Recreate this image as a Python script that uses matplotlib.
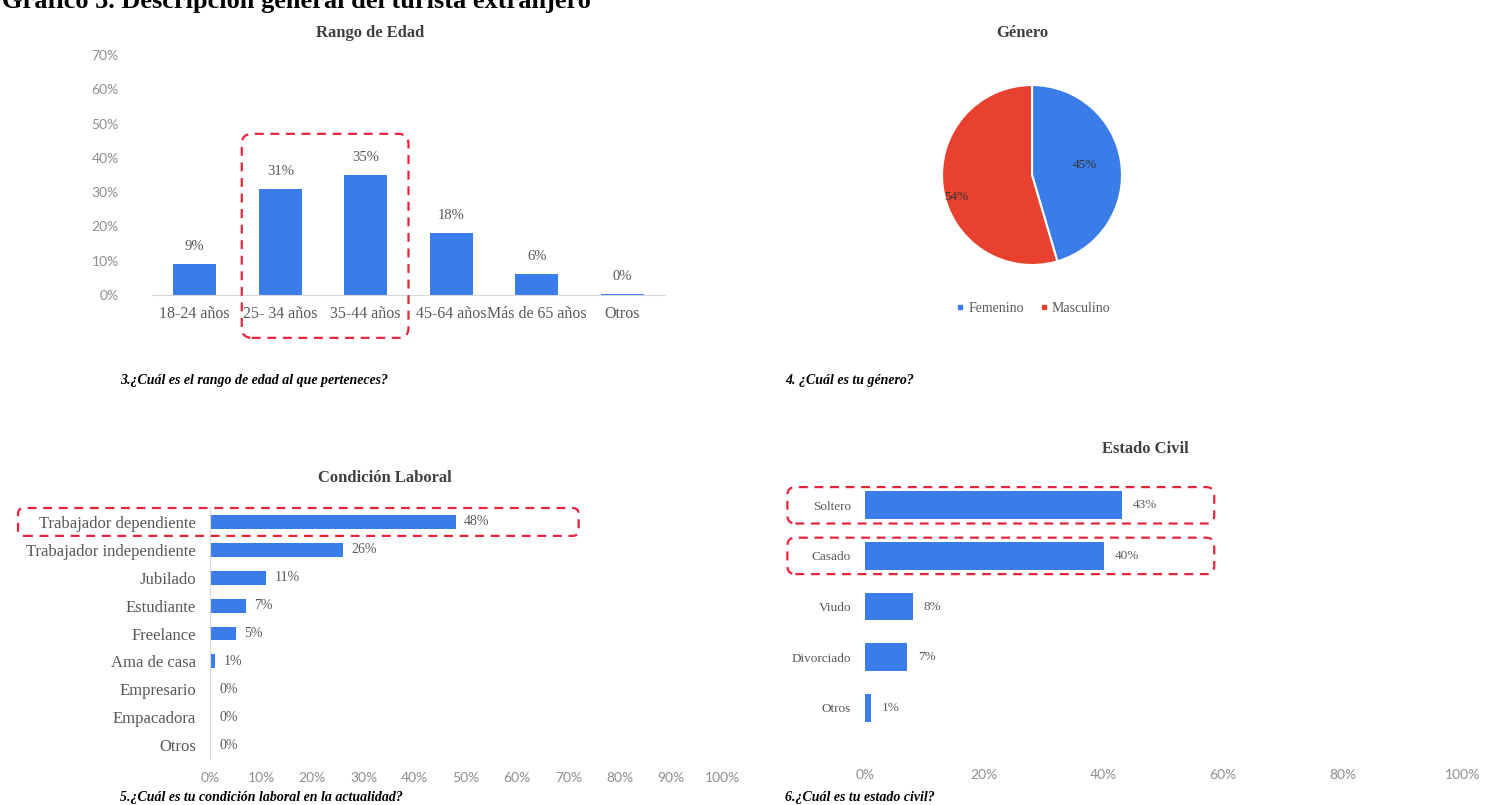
import matplotlib
matplotlib.use("Agg")
import numpy as np
from matplotlib import pyplot as plt
from matplotlib.patches import FancyBboxPatch
from matplotlib.lines import Line2D
from matplotlib.transforms import IdentityTransform

# data
edad_cats = ["18-24 años", "25- 34 años", "35-44 años", "45-64 años", "Más de 65 años", "Otros"]
edad_vals = [9, 31, 35, 18, 6, 0.4]

genero_cats = ["Femenino", "Masculino"]
genero_vals = [45, 54]

laboral_cats = ["Trabajador dependiente", "Trabajador independiente", "Jubilado", "Estudiante",
                "Freelance", "Ama de casa", "Empresario", "Empacadora", "Otros"]
laboral_vals = [48, 26, 11, 7, 5, 1, 0.2, 0.2, 0.2]

civil_cats = ["Soltero", "Casado", "Viudo", "Divorciado", "Otros"]
civil_vals = [43, 40, 8, 7, 1]

BLUE = "#3b7de8"
RED = "#e8412f"
BOX_RED = "#e8243c"
GREY = "#595959"
LIGHT = "#8f8f8f"
SERIF = ["Liberation Serif", "DejaVu Serif"]
SANS = ["Liberation Sans Narrow", "Lato", "DejaVu Sans"]

W, H = 1486, 805
fig = plt.figure(figsize=(W / 100, H / 100), dpi=100)


def rect(l, t, r, b):
    return [l / W, 1 - b / H, (r - l) / W, (b - t) / H]


def ftext(x, y, s, **kw):
    fig.text(x / W, 1 - y / H, s, **kw)


def dashed_box(ax, x0, y0, x1, y1, rad=10):
    # rounded dashed frame, corners given in data coords of ax
    fig.canvas.draw()
    (a, b) = ax.transData.transform((x0, y0))
    (c, d) = ax.transData.transform((x1, y1))
    l, r = min(a, c), max(a, c)
    lo, hi = min(b, d), max(b, d)
    p = FancyBboxPatch((l, lo), r - l, hi - lo, boxstyle=f"round,pad=0,rounding_size={rad}",
                       transform=IdentityTransform(), fill=False, edgecolor=BOX_RED,
                       linewidth=1.6, linestyle=(0, (4, 3)), clip_on=False)
    fig.add_artist(p)


def plain(ax, keep):
    for side in ["top", "right", "left", "bottom"]:
        ax.spines[side].set_visible(side in keep)
        ax.spines[side].set_color("#d9d9d9")
    ax.tick_params(length=0)


# page heading, partly cut at the top edge
ftext(2, 8, "Gráfico 3. Descripción general del turista extranjero", family=SERIF,
      fontsize=19, fontweight="bold", va="baseline", ha="left")

# Rango de Edad
ax1 = fig.add_axes(rect(152, 55, 665, 295))
x1 = list(range(len(edad_cats)))
ax1.bar(x1, edad_vals, width=0.5, color=BLUE)
ax1.set_xlim(-0.5, len(edad_cats) - 0.5)
ax1.set_ylim(0, 70)
ax1.set_yticks(range(0, 71, 10))
ax1.set_yticklabels([f"{t}%" for t in range(0, 71, 10)], family=SANS, fontsize=10, color=LIGHT)
ax1.set_xticks(x1)
ax1.set_xticklabels(edad_cats, family=SERIF, fontsize=11.5, color=GREY)
plain(ax1, ["bottom"])
ax1.tick_params(axis="y", pad=24)
ax1.tick_params(axis="x", pad=8)
for i, v in enumerate(edad_vals):
    ax1.annotate(f"{v:.0f}%", (i, v), xytext=(0, 8), textcoords="offset points",
                 ha="center", va="bottom", family=SERIF, fontsize=10.5, color=GREY)
ftext(370, 33, "Rango de Edad", family=SERIF, fontsize=12, fontweight="bold",
      color="#404040", ha="center", va="center")
ftext(120, 380, "3.¿Cuál es el rango de edad al que perteneces?", family=SERIF,
      fontsize=10, fontweight="bold", style="italic", va="center")

# Género
ax2 = fig.add_axes(rect(942, 85, 1122, 265))
wedges, _ = ax2.pie(genero_vals, colors=[BLUE, RED], startangle=90, counterclock=False,
                    wedgeprops=dict(edgecolor="white", linewidth=1.5))
ax2.set_xlim(-1, 1)
ax2.set_ylim(-1, 1)
for w, v, dist, shift in zip(wedges, genero_vals, [0.6, 0.88], [2, 8]):
    ang = np.deg2rad((w.theta1 + w.theta2) / 2 + shift)
    ax2.text(dist * np.cos(ang), dist * np.sin(ang), f"{v}%", ha="center", va="center",
             family=SERIF, fontsize=9.5, color="#333333")
handles = [Line2D([], [], marker="s", ls="", color=c, markersize=3.5, label=l)
           for c, l in zip([BLUE, RED], genero_cats)]
fig.legend(handles=handles, loc="center", bbox_to_anchor=(1032 / W, 1 - 308 / H), ncol=2,
           frameon=False, prop=dict(family=SERIF, size=10), labelcolor=GREY,
           handletextpad=0.1, columnspacing=0.9, handlelength=1.0)
ftext(1022, 33, "Género", family=SERIF, fontsize=12, fontweight="bold",
      color="#404040", ha="center", va="center")
ftext(785, 380, "4. ¿Cuál es tu género?", family=SERIF, fontsize=10, fontweight="bold",
      style="italic", va="center")

# Condición Laboral
ax3 = fig.add_axes(rect(210, 508, 722, 759))
y3 = list(range(len(laboral_cats)))
ax3.barh(y3, laboral_vals, height=0.5, color=BLUE)
ax3.set_ylim(len(laboral_cats) - 0.5, -0.5)
ax3.set_xlim(0, 100)
ax3.set_xticks(range(0, 101, 10))
ax3.set_xticklabels([f"{t}%" for t in range(0, 101, 10)], family=SANS, fontsize=10, color=LIGHT)
ax3.set_yticks(y3)
ax3.set_yticklabels(laboral_cats, family=SERIF, fontsize=12, color=GREY)
plain(ax3, ["left"])
ax3.tick_params(axis="x", pad=9)
ax3.tick_params(axis="y", pad=10)
for i, v in enumerate(laboral_vals):
    ax3.annotate(f"{v:.0f}%", (v, i), xytext=(6, 0), textcoords="offset points",
                 ha="left", va="center", family=SERIF, fontsize=10, color=GREY)
ftext(385, 478, "Condición Laboral", family=SERIF, fontsize=12, fontweight="bold",
      color="#404040", ha="center", va="center")
ftext(120, 797, "5.¿Cuál es tu condición laboral en la actualidad?", family=SERIF,
      fontsize=10, fontweight="bold", style="italic", va="center")

# Estado Civil
ax4 = fig.add_axes(rect(865, 480, 1462, 733))
y4 = list(range(len(civil_cats)))
ax4.barh(y4, civil_vals, height=0.55, color=BLUE)
ax4.set_ylim(len(civil_cats) - 0.5, -0.5)
ax4.set_xlim(0, 100)
ax4.set_xticks(range(0, 101, 20))
ax4.set_xticklabels([f"{t}%" for t in range(0, 101, 20)], family=SANS, fontsize=10, color=LIGHT)
ax4.set_yticks(y4)
ax4.set_yticklabels(civil_cats, family=SERIF, fontsize=9.5, color=GREY)
plain(ax4, [])
ax4.tick_params(axis="x", pad=26)
ax4.tick_params(axis="y", pad=10)
for i, v in enumerate(civil_vals):
    ax4.annotate(f"{v:.0f}%", (v, i), xytext=(8, 0), textcoords="offset points",
                 ha="left", va="center", family=SERIF, fontsize=9.5, color=GREY)
ftext(1145, 449, "Estado Civil", family=SERIF, fontsize=12, fontweight="bold",
      color="#404040", ha="center", va="center")
ftext(785, 797, "6.¿Cuál es tu estado civil?", family=SERIF, fontsize=10, fontweight="bold",
      style="italic", va="center")

# highlight frames
dashed_box(ax1, 0.55, -12.5, 2.5, 47)
dashed_box(ax3, -37.5, -0.5, 72, 0.5, rad=6)
dashed_box(ax4, -13, -0.36, 58.5, 0.36, rad=8)
dashed_box(ax4, -13, 0.64, 58.5, 1.36, rad=8)

fig.savefig("out.png", dpi=100)
